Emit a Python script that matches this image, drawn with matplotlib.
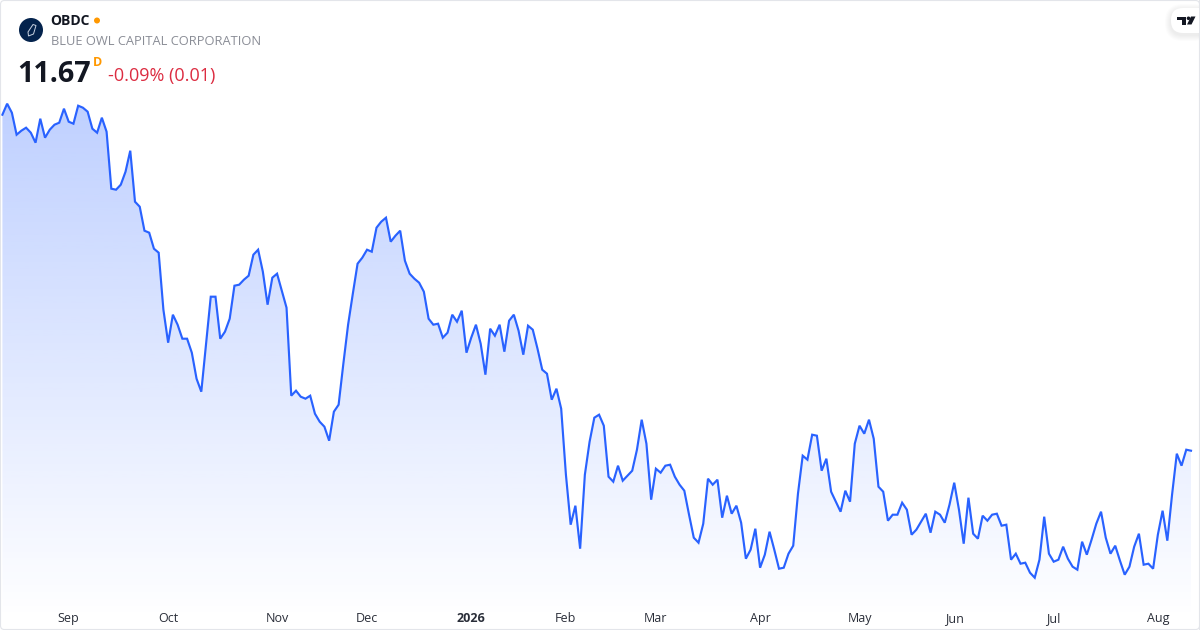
import numpy as np
import matplotlib
matplotlib.use("Agg")
import matplotlib.pyplot as plt
from matplotlib.patches import Circle, FancyBboxPatch, Polygon, Rectangle

# daily close
closes_2025_a = [15.03, 15.14, 15.05, 14.83, 14.87, 14.90, 14.85, 14.75, 14.99, 14.80,
                 14.88, 14.93, 14.95, 15.09, 14.96, 14.94, 15.12, 15.10, 15.06, 14.89,
                 14.85, 15.00, 14.86, 14.29, 14.28, 14.33, 14.46, 14.67, 14.16, 14.11,
                 13.87, 13.85, 13.69, 13.65, 13.08, 12.75, 13.03, 12.93, 12.79, 12.79,
                 12.65, 12.39, 12.26, 12.74, 13.21, 13.21, 12.79, 12.86, 12.99, 13.32,
                 13.33, 13.38, 13.42, 13.63, 13.68, 13.46, 13.13, 13.40, 13.44, 13.27,
                 13.10, 12.22, 12.27]
closes_2025_b = [12.21, 12.19, 12.22, 12.04, 11.96, 11.91, 11.77, 12.06, 12.13, 12.54,
                 12.93, 13.24, 13.54, 13.60, 13.68, 13.66, 13.90, 13.96, 14.00, 13.76,
                 13.82, 13.87, 13.57, 13.44, 13.39, 13.35, 13.26, 12.99, 12.93, 12.94,
                 12.80, 12.85, 13.03, 12.96, 13.07, 12.65, 12.80, 12.93, 12.74, 12.43,
                 12.89, 12.82, 12.93, 12.66, 12.97, 13.03, 12.87, 12.63, 12.92, 12.88,
                 12.69, 12.48, 12.44, 12.18, 12.29, 12.09, 11.43, 10.93, 11.12, 10.69,
                 11.43, 11.76, 12.00, 12.03]
closes_2026_a = [11.92, 11.41, 11.36, 11.52, 11.37, 11.42, 11.47, 11.68, 11.98, 11.74,
                 11.18, 11.49, 11.45, 11.52, 11.53, 11.41, 11.33, 11.27, 11.03, 10.80,
                 10.75, 10.94, 11.39, 11.33, 11.38, 11.00, 11.22, 11.04, 11.12, 10.95,
                 10.59, 10.68, 10.89, 10.50, 10.63, 10.86, 10.68, 10.49, 10.50, 10.64,
                 10.72, 11.24, 11.62, 11.58, 11.83, 11.82, 11.47, 11.59, 11.26, 11.16,
                 11.06, 11.27, 11.16, 11.74, 11.92, 11.84, 11.98, 11.79, 11.31, 11.26,
                 10.97, 11.03, 11.03]
closes_2026_b = [11.15, 11.08, 10.83, 10.88, 10.96, 11.04, 10.85, 11.06, 11.03, 10.95,
                 11.13, 11.35, 11.08, 10.74, 11.20, 10.84, 10.79, 11.02, 10.97, 11.03,
                 11.04, 10.92, 10.93, 10.58, 10.64, 10.54, 10.55, 10.45, 10.40, 10.58,
                 11.01, 10.64, 10.56, 10.58, 10.71, 10.59, 10.51, 10.48, 10.76, 10.63,
                 10.78, 10.94, 11.06, 10.80, 10.64, 10.72, 10.57, 10.43, 10.51, 10.71,
                 10.84, 10.53, 10.54, 10.49, 10.83, 11.07, 10.77, 11.23, 11.64, 11.52,
                 11.68, 11.67]

tick_days = [14, 35, 58, 77, 99, 119, 138, 160, 181, 201, 222, 244]
tick_labels = ['Sep', 'Oct', 'Nov', 'Dec', '2026', 'Feb', 'Mar', 'Apr', 'May', 'Jun', 'Jul', 'Aug']

ticker = 'OBDC'
company = 'BLUE OWL CAPITAL CORPORATION'
last_price = '11.67'
price_change = '-0.09% (0.01)'

LINE = '#2962FF'
FONT = 'Open Sans'


def draw_chart(ax, closes):
    days = np.arange(len(closes))

    # gradient under the line, clipped to the area below it
    rgba = np.zeros((256, 1, 4))
    rgba[..., :3] = matplotlib.colors.to_rgb(LINE)
    rgba[:, 0, 3] = np.linspace(0.3, 0, 256)
    im = ax.imshow(rgba, extent=(days[0], days[-1], 9.977, closes.max()),
                   origin='upper', aspect='auto', zorder=1, interpolation='bilinear')
    area = ax.fill_between(days, closes, 9.977, color='none')
    im.set_clip_path(area.get_paths()[0], transform=ax.transData)
    ax.set_xlim(-0.507, 252.9)
    ax.set_ylim(9.877, 16.177)

    ax.plot(days, closes, color=LINE, lw=1.55, zorder=2, solid_joinstyle='miter')

    ax.set_xticks(tick_days)
    ax.set_xticklabels(tick_labels, fontfamily=FONT, fontsize=9, color='#2a2e39')
    ax.get_xticklabels()[4].set_fontweight('bold')
    ax.tick_params(axis='x', length=0, pad=-12.7)
    ax.set_yticks([])
    ax.set_frame_on(False)


def draw_header(over):
    # overlay in pixel coordinates
    over.set_xlim(0, 1200)
    over.set_ylim(630, 0)
    over.axis('off')

    over.add_patch(FancyBboxPatch((0.5, 0.5), 1199, 629, boxstyle='round,pad=0,rounding_size=4',
                                  fc='none', ec='#e3e5ea', lw=0.8))

    # logo
    over.add_patch(Circle((31, 30), 12, fc='#04234d', ec='none'))
    over.add_patch(Polygon([(33, 24.5), (36, 25.5), (33.5, 34), (28.5, 36), (28, 32)],
                           closed=True, fc='none', ec='#c9d3e2', lw=0.7))

    over.text(50.5, 21, ticker, family=FONT, weight='bold', fontsize=10, color='#131722', va='center')
    over.add_patch(Circle((97, 20.5), 3, fc='#ff9800', ec='none'))
    over.text(51, 41.5, company, family=FONT, fontsize=9.25, color='#8a8d96', va='center')
    over.text(17.5, 74.5, last_price, family=FONT, weight='bold', fontsize=20.7, color='#131722', va='center')
    over.text(93, 62, 'D', family=FONT, weight='bold', fontsize=9, color='#ff9800', va='center')
    over.text(108, 75.5, price_change, family=FONT, fontsize=13, color='#dc2c41', va='center')

    # TradingView badge with soft shadow
    for grow in [6, 5, 4, 3, 2, 1]:
        over.add_patch(FancyBboxPatch((1171 - grow, 8 - grow + 2), 40 + grow, 25 + 2 * grow,
                                      boxstyle='round,pad=0,rounding_size=%d' % (12 + grow),
                                      fc='black', ec='none', alpha=0.012))
    over.add_patch(FancyBboxPatch((1171, 8), 40, 25, boxstyle='round,pad=0,rounding_size=12',
                                  fc='white', ec='none'))
    over.add_patch(Rectangle((1199, 0), 1, 630, fc='#e3e5ea', ec='none'))
    over.add_patch(Polygon([(1177, 16.5), (1186, 16.5), (1186, 24.5), (1182, 24.5), (1182, 20), (1177, 20)],
                           closed=True, fc='#131722', ec='none'))
    over.add_patch(Circle((1188.5, 18.3), 1.8, fc='#131722', ec='none'))
    over.add_patch(Polygon([(1191, 16.5), (1195.5, 16.5), (1191.5, 24.5), (1187, 24.5)],
                           closed=True, fc='#131722', ec='none'))


def main():
    closes = np.array(closes_2025_a + closes_2025_b + closes_2026_a + closes_2026_b)

    fig = plt.figure(figsize=(12, 6.3), dpi=100, facecolor='white')
    ax = fig.add_axes([0, 0, 1, 1])
    draw_chart(ax, closes)

    over = fig.add_axes([0, 0, 1, 1], facecolor='none')
    draw_header(over)

    fig.savefig('out.png', dpi=100)


if __name__ == "__main__":
    main()
